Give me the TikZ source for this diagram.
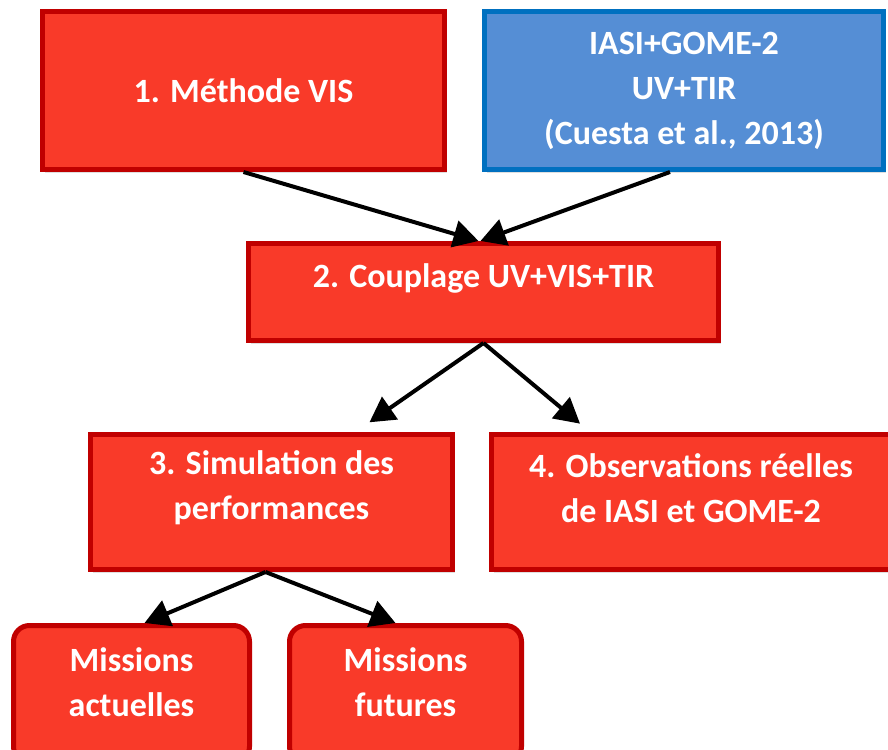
\documentclass[tikz,border=0pt]{standalone}
\usepackage{fontspec}
\setmainfont{Carlito}
\usetikzlibrary{arrows.meta,shadows}

\definecolor{boxred}{HTML}{F93A29}
\definecolor{borderred}{HTML}{C00000}
\definecolor{boxblue}{HTML}{558ED5}
\definecolor{borderblue}{HTML}{0070C0}

\begin{document}
\begin{tikzpicture}[x=1pt, y=-1pt,
  redbox/.style={draw=borderred, fill=boxred, line width=5pt, inner sep=0pt,
    drop shadow={opacity=0.25, shadow xshift=2pt, shadow yshift=-3pt}},
  bluebox/.style={redbox, draw=borderblue, fill=boxblue},
  roundbox/.style={redbox, rounded corners=16pt},
  boxtext/.style={text=white, font=\bfseries\fontsize{34}{45}\selectfont, align=center},
  arrow/.style={line width=4pt, -{Triangle[length=25pt, width=27pt]}}]

  \useasboundingbox (0,0) rectangle (888,749);

  % 1. Méthode VIS
  \node [redbox, boxtext, minimum width=402pt, minimum height=158pt] (methode) at (243.5,90.5) {1. Méthode VIS};

  % IASI+GOME-2
  \node [bluebox, boxtext, minimum width=399pt, minimum height=158pt] (iasi) at (684,90.5)
    {IASI+GOME-2\\UV+TIR\\(Cuesta et al., 2013)};

  % 2. Couplage
  \node [redbox, minimum width=470pt, minimum height=97pt] (couplage) at (483.5,292) {};
  \node [boxtext] (couplage-text) at ([yshift=14pt]couplage.center) {2. Couplage UV+VIS+TIR};

  % 3. Simulation
  \node [redbox, minimum width=362pt, minimum height=135pt] (simulation) at (271.5,502) {};
  \node [boxtext] (simulation-text) at ([yshift=14pt]simulation.center) {3. Simulation des\\performances};

  % 4. Observations
  \node [redbox, minimum width=399pt, minimum height=135pt] (observations) at (691,502) {};
  \node [boxtext] (observations-text) at ([yshift=14pt]observations.center) {4. Observations réelles\\de IASI et GOME-2};

  % Missions
  \node [roundbox, minimum width=236pt, minimum height=137pt] (actuelles) at (131.5,694) {};
  \node [boxtext] (actuelles-text) at ([yshift=12pt]actuelles.center) {Missions\\actuelles};
  \node [roundbox, minimum width=232pt, minimum height=137pt] (futures) at (405.5,694) {};
  \node [boxtext] (futures-text) at ([yshift=12pt]futures.center) {Missions\\futures};

  % flèches
  \draw [arrow] (methode.south) -- ([xshift=-5pt]couplage.north);
  \draw [arrow] ([xshift=-14pt]iasi.south) -- ([xshift=-3pt]couplage.north);
  \draw [arrow, shorten >=17pt] (couplage.south) -- ([xshift=84pt]simulation.north);
  \draw [arrow, shorten >=13pt] (couplage.south) -- ([xshift=-101pt]observations.north);
  \draw [arrow] ([xshift=-6pt]simulation.south) -- ([xshift=13pt]actuelles.north);
  \draw [arrow] ([xshift=-6pt]simulation.south) -- ([xshift=-10pt]futures.north);

\end{tikzpicture}
\end{document}
